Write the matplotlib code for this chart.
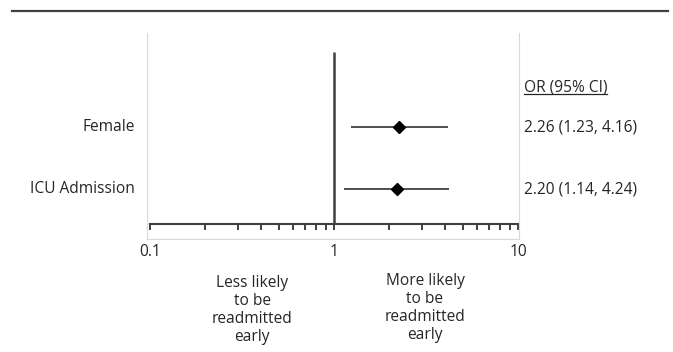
import matplotlib
matplotlib.use("Agg")
import matplotlib.pyplot as plt
from matplotlib.lines import Line2D
from matplotlib.ticker import LogLocator, NullFormatter

plt.rcParams["font.family"] = ["Open Sans", "DejaVu Sans"]
plt.rcParams["font.size"] = 11.2

# Forest plot data
labels = ["Female", "ICU Admission"]
odds_ratio = [2.26, 2.20]
ci_low = [1.23, 1.14]
ci_high = [4.16, 4.24]
header = "OR (95% CI)"
tick_values = [0.1, 1, 10]
tick_labels = ["0.1", "1", "10"]
less_text = "Less likely\nto be\nreadmitted\nearly"
more_text = "More likely\nto be\nreadmitted\nearly"

W, H = 673, 352
TEXT = "#262626"
LINE = "#404040"


def fx(px):
    return px / W


def fy(py):
    return 1 - py / H


fig = plt.figure(figsize=(W / 100, H / 100), dpi=100)

# top rule across the figure
fig.add_artist(Line2D([fx(12), fx(668)], [fy(11), fy(11)], color=LINE, lw=1.6))

# light frame around the plot region
frame = dict(color="#d9d9d9", lw=0.8)
fig.add_artist(Line2D([fx(147), fx(147)], [fy(33), fy(239)], **frame))
fig.add_artist(Line2D([fx(519), fx(519)], [fy(33), fy(239)], **frame))
fig.add_artist(Line2D([fx(147), fx(519)], [fy(239), fy(239)], **frame))

ax = fig.add_axes([fx(150), fy(239), (518 - 150) / W, (239 - 33) / H])
ax.patch.set_alpha(0)

rows = list(range(len(labels)))
row_px = 62  # pixel distance between rows
first_px = 127
ax.set_ylim((239 - first_px) / row_px, (33 - first_px) / row_px)
base_y = (224 - first_px) / row_px

ax.set_xscale("log")
ax.set_xlim(0.1, 10)

# line of no effect
ax.plot([1, 1], [(52 - first_px) / row_px, base_y], color=LINE, lw=1.8,
        solid_capstyle="butt", zorder=2)

xerr = [[o - l for o, l in zip(odds_ratio, ci_low)],
        [h - o for o, h in zip(odds_ratio, ci_high)]]
ax.errorbar(odds_ratio, rows, xerr=xerr, fmt="D", color="black",
            ecolor=LINE, elinewidth=1.3, capsize=0, markersize=6, zorder=3)

for spine in ["left", "right", "top"]:
    ax.spines[spine].set_visible(False)
ax.spines["bottom"].set_position(("data", base_y))
ax.spines["bottom"].set_color(LINE)
ax.spines["bottom"].set_linewidth(1.5)

ax.set_xticks(tick_values)
ax.set_xticklabels(tick_labels)
ax.xaxis.set_minor_locator(LogLocator(base=10, subs=range(2, 10)))
ax.xaxis.set_minor_formatter(NullFormatter())
ax.tick_params(axis="x", which="both", direction="out", length=4.5,
               width=1.4, color=LINE, pad=10, labelcolor=TEXT)
ax.set_yticks([])

# row labels and OR text
for r, lab, o, l, h in zip(rows, labels, odds_ratio, ci_low, ci_high):
    ax.annotate(lab, xy=(0, r), xycoords=("figure fraction", "data"),
                xytext=(fx(135), 0), textcoords=("figure fraction", "offset points"),
                ha="right", va="center", color=TEXT)
    ax.annotate(f"{o:.2f} ({l:.2f}, {h:.2f})", xy=(0, r),
                xycoords=("figure fraction", "data"),
                xytext=(fx(524), 0), textcoords=("figure fraction", "offset points"),
                ha="left", va="center", color=TEXT)

hdr = fig.text(fx(524), fy(87), header, ha="left", va="center", color=TEXT)

# underline for the header
fig.canvas.draw()
bb = hdr.get_window_extent().transformed(fig.transFigure.inverted())
fig.add_artist(Line2D([bb.x0, bb.x1], [bb.y0 + 0.004, bb.y0 + 0.004],
                      color=TEXT, lw=0.9))

fig.text(fx(252), fy(310), less_text, ha="center", va="center",
         color=TEXT, linespacing=1.15)
fig.text(fx(425), fy(308), more_text, ha="center", va="center",
         color=TEXT, linespacing=1.15)

fig.savefig("out.png", dpi=100)
